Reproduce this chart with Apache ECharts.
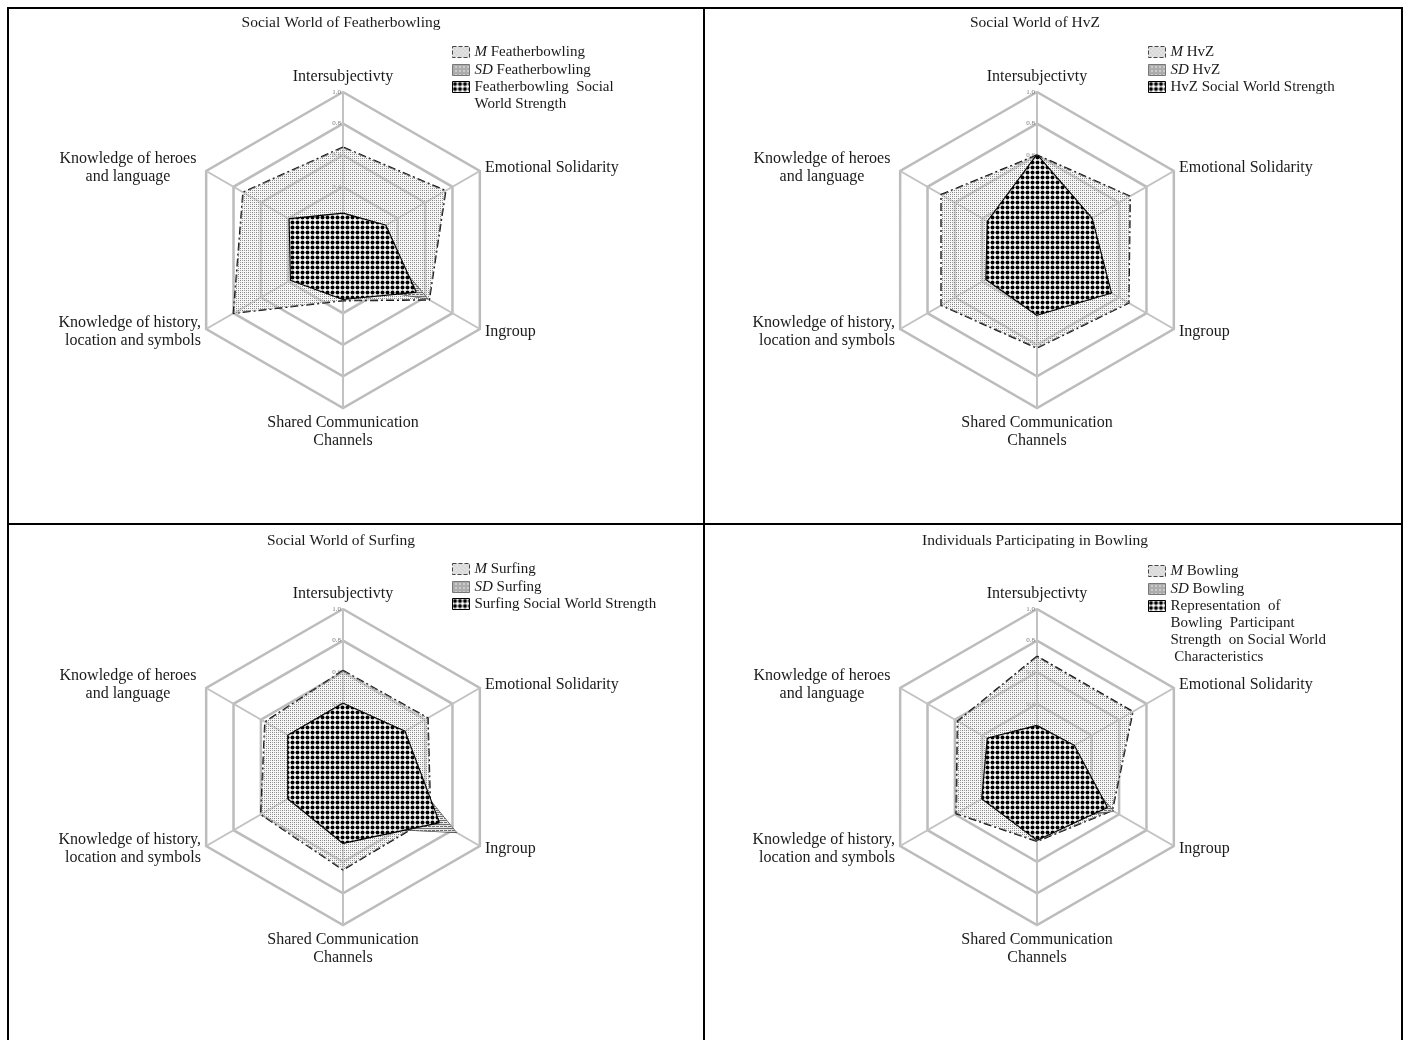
<!DOCTYPE html>
<html>
<head>
<meta charset="utf-8">
<script src="https://cdn.jsdelivr.net/npm/echarts@6/dist/echarts.min.js"></script>
<style>
  html, body { margin: 0; padding: 0; background: #ffffff; }
  #chart { width: 1405px; height: 1040px; }
</style>
</head>
<body>
<div id="chart"></div>
<script>
// Radar dimensions, listed in ECharts order (top, then counter-clockwise)
const dimensions = [
  'Intersubjectivty',
  'Knowledge of heroes\nand language',
  'Knowledge of history,\nlocation and symbols',
  'Shared Communication\nChannels',
  'Ingroup',
  'Emotional Solidarity'
];
const scaleMin = 0;
const scaleMax = 1.0;
const scaleSplits = 5;

const panelTitles = [
  'Social World of Featherbowling',
  'Social World of HvZ',
  'Social World of Surfing',
  'Individuals Participating in Bowling'
];
const groupNames = ['Featherbowling', 'HvZ', 'Surfing', 'Bowling'];
const strengthNames = [
  'Featherbowling Social World Strength',
  'HvZ Social World Strength',
  'Surfing Social World Strength',
  'Representation of Bowling Participant Strength on Social World Characteristics'
];
const strengthLegendText = [
  'Featherbowling  Social\nWorld Strength',
  'HvZ Social World Strength',
  'Surfing Social World Strength',
  'Representation  of\nBowling  Participant\nStrength  on Social World\n Characteristics'
];

// Values per dimension (same order as dimensions)
const featherMean     = [0.65, 0.73, 0.80, 0.32, 0.63, 0.75];
const featherSD       = [0.16, 0.24, 0.26, 0.22, 0.62, 0.22];
const featherStrength = [0.23, 0.39, 0.38, 0.31, 0.53, 0.31];

const hvzMean     = [0.60, 0.70, 0.70, 0.62, 0.67, 0.68];
const hvzSD       = [0.40, 0.28, 0.28, 0.30, 0.40, 0.30];
const hvzStrength = [0.60, 0.36, 0.37, 0.41, 0.54, 0.40];

const surfMean     = [0.61, 0.57, 0.60, 0.65, 0.64, 0.62];
const surfSD       = [0.30, 0.30, 0.30, 0.38, 0.83, 0.30];
const surfStrength = [0.40, 0.40, 0.40, 0.48, 0.70, 0.45];

const bowlMean     = [0.70, 0.58, 0.59, 0.47, 0.55, 0.70];
const bowlSD       = [0.18, 0.25, 0.30, 0.35, 0.56, 0.20];
const bowlStrength = [0.26, 0.36, 0.40, 0.46, 0.51, 0.27];

const meanSets = [featherMean, hvzMean, surfMean, bowlMean];
const sdSets = [featherSD, hvzSD, surfSD, bowlSD];
const strengthSets = [featherStrength, hvzStrength, surfStrength, bowlStrength];

// Layout of the four panels
const centers = [[343, 250], [1037, 250], [343, 767], [1037, 767]];
const radius = 158;
const legendX = [452, 1148, 452, 1148];
const legendFirstY = [52, 52, 569, 571];

const serif = 'Liberation Serif, Times New Roman, serif';

// Fill patterns
function makeTile(size, draw) {
  const c = document.createElement('canvas');
  c.width = size; c.height = size;
  draw(c.getContext('2d'));
  return { image: c, repeat: 'repeat' };
}
const meanPattern = makeTile(4, g => {
  g.fillStyle = 'rgba(235,235,235,0.4)';
  g.fillRect(0, 0, 4, 4);
  g.fillStyle = '#808080';
  g.fillRect(0, 0, 1, 1);
  g.fillRect(2, 2, 1, 1);
  g.fillStyle = '#a0a0a0';
  g.fillRect(2, 0, 1, 1);
  g.fillRect(0, 2, 1, 1);
});
const sdPattern = makeTile(4, g => {
  g.fillStyle = 'rgba(225,225,225,0.7)';
  g.fillRect(0, 0, 4, 4);
  g.fillStyle = '#6e6e6e';
  g.fillRect(0, 0, 4, 1);
  g.fillRect(0, 2, 3, 1);
});
const strengthPattern = makeTile(5, g => {
  g.fillStyle = 'rgba(255,255,255,0.9)';
  g.fillRect(0, 0, 5, 5);
  g.fillStyle = '#000';
  g.beginPath();
  g.arc(2.5, 2.5, 2.0, 0, Math.PI * 2);
  g.fill();
});

const radars = centers.map(c => ({
  center: c,
  radius: radius,
  startAngle: 90,
  shape: 'polygon',
  splitNumber: scaleSplits,
  indicator: dimensions.map((d, i) => {
    const ind = { name: d, min: scaleMin, max: scaleMax };
    if (i === 0) {
      ind.axisLabel = {
        show: true, fontSize: 7, color: '#7a7a7a', fontFamily: serif,
        margin: 2,
        formatter: v => v === 0 ? '' : v.toFixed(1)
      };
    }
    return ind;
  }),
  axisName: {
    color: '#1a1a1a',
    fontSize: 16,
    fontFamily: serif,
    lineHeight: 18,
    formatter: name => {
      if (name.indexOf('heroes') >= 0) {
        return name.split('\n').map(s => '{c|' + s + '}').join('\n');
      }
      return name;
    },
    rich: {
      c: { width: 146, align: 'center', fontSize: 16, fontFamily: serif, color: '#1a1a1a', lineHeight: 18 }
    }
  },
  nameGap: 6,
  axisLine: { lineStyle: { color: '#c2c2c2', width: 2 } },
  splitLine: { lineStyle: { color: '#bcbcbc', width: 2.5 } },
  splitArea: { show: false },
  axisTick: { show: false },
  axisLabel: { show: false }
}));

const series = groupNames.map((g, i) => ({
  type: 'radar',
  radarIndex: i,
  symbol: 'none',
  silent: true,
  data: [
    {
      name: 'M ' + g,
      value: meanSets[i],
      itemStyle: { color: '#999' },
      areaStyle: { color: meanPattern, opacity: 1 },
      lineStyle: { color: '#111', width: 1.8, type: [8, 3, 2, 3] }
    },
    {
      name: 'SD ' + g,
      value: sdSets[i],
      itemStyle: { color: '#777' },
      areaStyle: { color: sdPattern, opacity: 1 },
      lineStyle: { color: '#444', width: 1, type: 'solid' }
    },
    {
      name: strengthNames[i],
      value: strengthSets[i],
      itemStyle: { color: '#000' },
      areaStyle: { color: strengthPattern, opacity: 1 },
      lineStyle: { color: '#000', width: 2.2, type: 'solid' }
    }
  ]
}));

const LH = 17;
const legendText = {
  fontFamily: serif, fontSize: 15, color: '#1a1a1a', lineHeight: LH,
  rich: { i: { fontFamily: serif, fontSize: 15, fontStyle: 'italic', color: '#1a1a1a', lineHeight: LH } }
};
function legendFormatter(name) {
  const s = strengthNames.indexOf(name);
  if (s >= 0) return strengthLegendText[s];
  if (name.indexOf('M ') === 0) return '{i|M} ' + name.slice(2);
  if (name.indexOf('SD ') === 0) return '{i|SD} ' + name.slice(3);
  return name;
}

const legends = [];
groupNames.forEach((g, i) => {
  legends.push({
    orient: 'vertical', left: legendX[i], top: legendFirstY[i] - LH / 2,
    padding: 0, itemGap: 1, itemWidth: 17, itemHeight: 11,
    selectedMode: false, textStyle: legendText, formatter: legendFormatter,
    data: [
      { name: 'M ' + g, icon: 'rect', itemStyle: { color: meanPattern, borderColor: '#444', borderWidth: 1, borderType: 'dashed' } },
      { name: 'SD ' + g, icon: 'rect', itemStyle: { color: sdPattern, borderColor: '#777', borderWidth: 1 } }
    ]
  });
  const lines = strengthLegendText[i].split('\n').length;
  const firstY = legendFirstY[i] + 2 * (LH + 0.5);
  legends.push({
    orient: 'vertical', left: legendX[i], top: firstY - (2 * lines - 1) * LH / 2,
    padding: 0, itemWidth: 17, itemHeight: 11,
    selectedMode: false, formatter: legendFormatter,
    textStyle: Object.assign({}, legendText, { padding: [(lines - 1) * LH, 0, 0, 0] }),
    data: [
      { name: strengthNames[i], icon: 'rect', itemStyle: { color: strengthPattern, borderColor: '#000', borderWidth: 1 } }
    ]
  });
});

const titles = panelTitles.map((t, i) => ({
  text: t,
  left: centers[i][0] - 2,
  top: i < 2 ? 15 : 533,
  textAlign: 'center',
  padding: 0,
  textStyle: { fontFamily: serif, fontSize: 15.5, fontWeight: 'normal', color: '#1a1a1a' }
}));

const chart = echarts.init(document.getElementById('chart'), null, { renderer: 'canvas' });
chart.setOption({
  backgroundColor: '#ffffff',
  animation: false,
  title: titles,
  legend: legends,
  radar: radars,
  series: series,
  graphic: [
    { type: 'rect', silent: true, shape: { x: 8, y: 8, width: 1394, height: 1040 },
      style: { fill: 'none', stroke: '#000', lineWidth: 2 } },
    { type: 'line', silent: true, shape: { x1: 704, y1: 8, x2: 704, y2: 1040 },
      style: { stroke: '#000', lineWidth: 2 } },
    { type: 'line', silent: true, shape: { x1: 8, y1: 524, x2: 1402, y2: 524 },
      style: { stroke: '#000', lineWidth: 2 } }
  ]
});
</script>
</body>
</html>
